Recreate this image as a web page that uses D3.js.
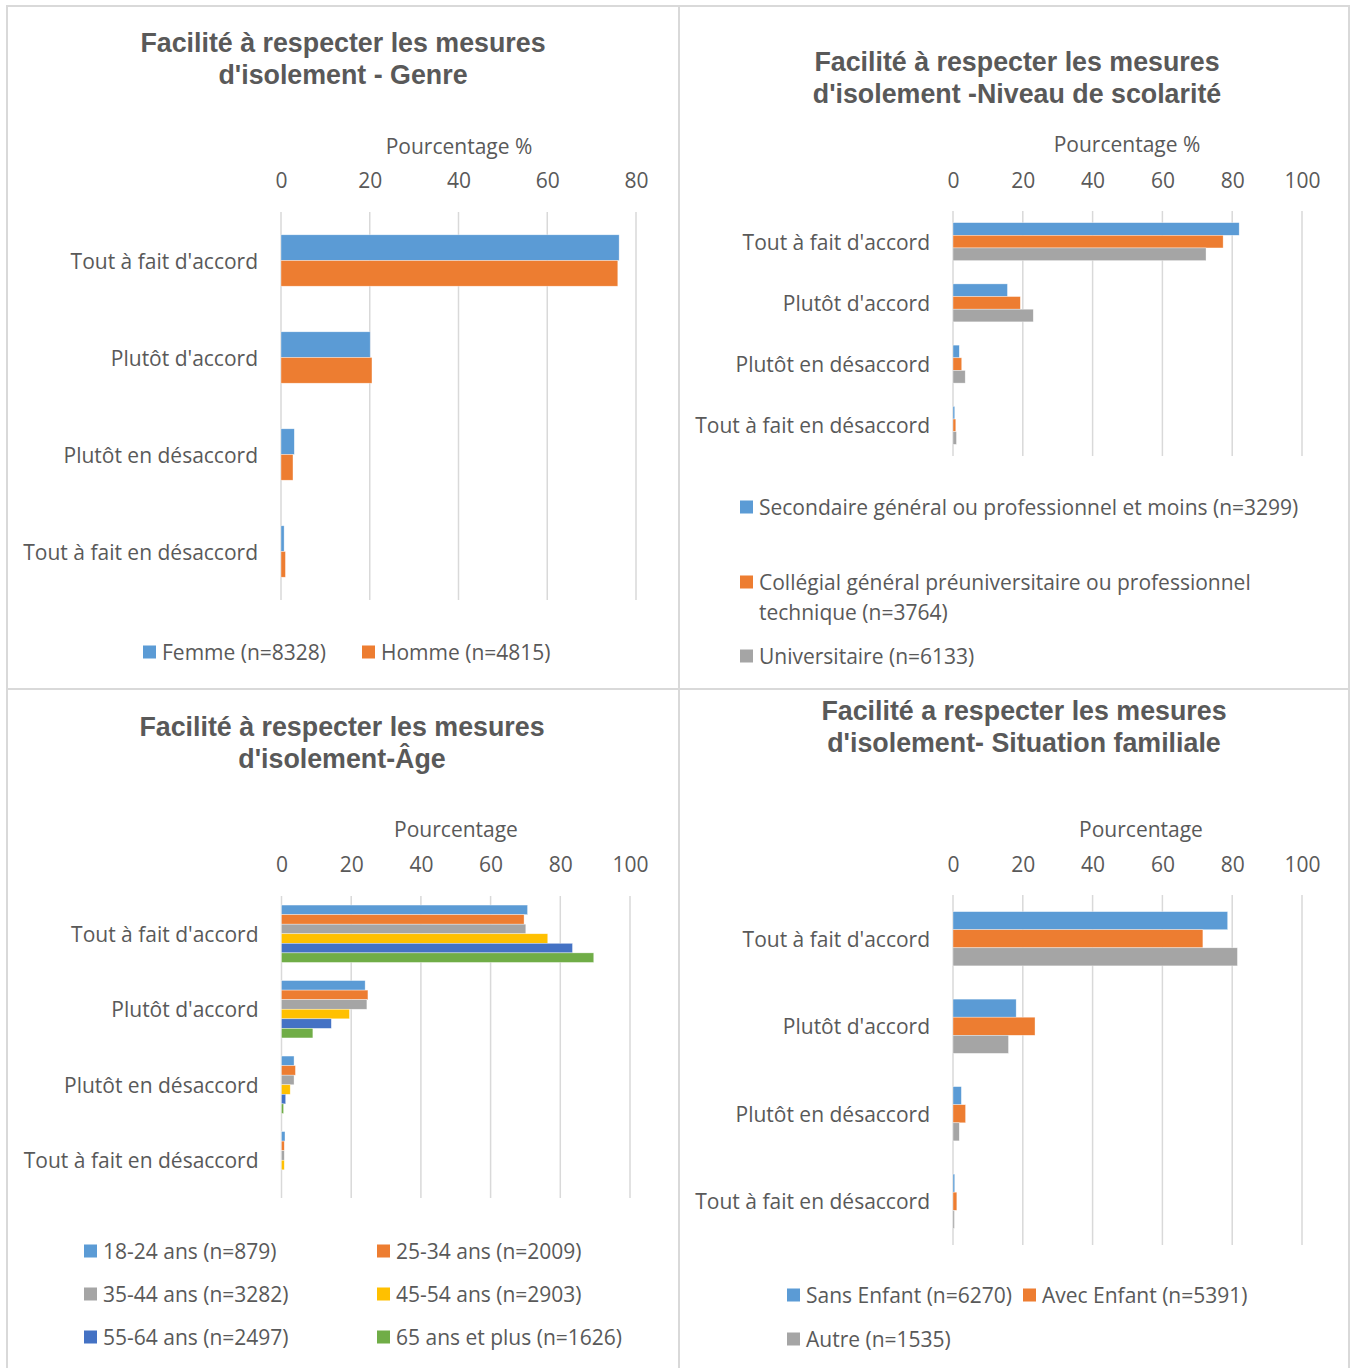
<!DOCTYPE html>
<html lang="fr">
<head>
<meta charset="UTF-8">
<title>Facilité à respecter les mesures d'isolement</title>
<script src="https://cdnjs.cloudflare.com/ajax/libs/d3/7.8.5/d3.min.js"></script>
<style>
  body { margin: 0; background: #fff; }
  svg { display: block; }
  .title { font-family: "Liberation Sans", Arial, sans-serif; font-weight: bold; font-size: 26.8px; fill: #595959; }
  .lbl { font-family: "Open Sans", sans-serif; font-size: 21px; fill: #595959; }
  .grid line { stroke: #d9d9d9; stroke-width: 1.5px; }
</style>
</head>
<body>
<div id="chart"></div>
<script>
// catégories (axe vertical)
const categories = ["Tout à fait d'accord", "Plutôt d'accord", "Plutôt en désaccord", "Tout à fait en désaccord"];

// Genre
const genreSeries = ["Femme (n=8328)", "Homme (n=4815)"];
const genreFemme = [76.2, 20.1, 3.0, 0.7];
const genreHomme = [75.9, 20.5, 2.7, 1.0];

// Niveau de scolarité
const scolSeries = ["Secondaire général ou professionnel et moins (n=3299)",
  "Collégial général préuniversitaire ou professionnel technique (n=3764)",
  "Universitaire (n=6133)"];
const scolSecondaire = [82.0, 15.6, 1.8, 0.5];
const scolCollegial = [77.4, 19.3, 2.5, 0.8];
const scolUniversitaire = [72.5, 23.0, 3.5, 1.0];

// Âge
const ageSeries = ["18-24 ans (n=879)", "25-34 ans (n=2009)", "35-44 ans (n=3282)",
  "45-54 ans (n=2903)", "55-64 ans (n=2497)", "65 ans et plus (n=1626)"];
const age1824 = [70.6, 24.0, 3.6, 1.0];
const age2534 = [69.6, 24.8, 4.0, 0.8];
const age3544 = [70.1, 24.5, 3.6, 0.8];
const age4554 = [76.4, 19.5, 2.5, 0.8];
const age5564 = [83.5, 14.3, 1.2, 0];
const age65 = [89.6, 9.0, 0.6, 0];

// Situation familiale
const famSeries = ["Sans Enfant (n=6270)", "Avec Enfant (n=5391)", "Autre (n=1535)"];
const famSans = [78.7, 18.1, 2.4, 0.5];
const famAvec = [71.6, 23.5, 3.6, 1.1];
const famAutre = [81.5, 15.9, 1.8, 0.4];

const genreTicks = [0, 20, 40, 60, 80];
const centTicks = [0, 20, 40, 60, 80, 100];

const colors = ["#5b9bd5", "#ed7d31", "#a5a5a5", "#ffc000", "#4472c4", "#70ad47"];

const W = 1350, H = 1368;
const svg = d3.select("#chart").append("svg").attr("width", W).attr("height", H);

// cadres
const frame = svg.append("g").attr("stroke", "#d9d9d9").attr("stroke-width", 2).attr("fill", "none");
frame.append("rect").attr("x", 7).attr("y", 6).attr("width", 1342).attr("height", 1370);
frame.append("line").attr("x1", 679).attr("x2", 679).attr("y1", 6).attr("y2", H);
frame.append("line").attr("x1", 7).attr("x2", 1349).attr("y1", 689).attr("y2", 689);

function drawPanel(p) {
  const g = svg.append("g");

  // titre
  p.title.forEach((t, i) => {
    g.append("text").attr("class", "title").attr("x", p.titleX).attr("y", p.titleY + i * 32)
      .attr("text-anchor", "middle").attr("dominant-baseline", "central").text(t);
  });

  const x = d3.scaleLinear().domain(p.domain).range([p.x0, p.x1]);
  const y = d3.scaleBand().domain(categories).range([p.y0, p.y1])
    .paddingInner(p.pad).paddingOuter(p.pad / 2);
  const ys = d3.scaleBand().domain(d3.range(p.values.length)).range([0, y.bandwidth()]);

  // grille
  g.append("g").attr("class", "grid").selectAll("line").data(p.ticks).join("line")
    .attr("x1", d => x(d)).attr("x2", d => x(d)).attr("y1", p.y0).attr("y2", p.y1);

  // graduations en haut
  const ax = g.append("g").attr("transform", `translate(0,${p.tickY})`)
    .call(d3.axisTop(x).tickValues(p.ticks).tickSize(0).tickPadding(0));
  ax.select(".domain").remove();
  ax.selectAll("text").attr("class", "lbl").attr("dy", "0.35em").attr("font-size", null).attr("font-family", null);
  ax.attr("font-size", null).attr("font-family", null);

  g.append("text").attr("class", "lbl").attr("x", p.axisTitleX).attr("y", p.axisTitleY)
    .attr("text-anchor", "middle").attr("dominant-baseline", "central").text(p.axisTitle);

  // catégories
  g.selectAll(".cat").data(categories).join("text").attr("class", "lbl cat")
    .attr("x", p.x0 - 23).attr("y", d => y(d) + y.bandwidth() / 2)
    .attr("text-anchor", "end").attr("dominant-baseline", "central").text(d => d);

  // barres
  p.values.forEach((vals, si) => {
    g.append("g").selectAll("rect").data(vals).join("rect")
      .attr("x", x(0)).attr("y", (d, ci) => y(categories[ci]) + ys(si))
      .attr("width", d => x(d) - x(0)).attr("height", ys.bandwidth())
      .attr("fill", colors[si]).attr("stroke", "#fff").attr("stroke-opacity", 0.6).attr("stroke-width", 0.6);
  });

  // légende
  p.legend.forEach((it, i) => {
    const lg = g.append("g").attr("transform", `translate(${it[0]},${it[1]})`);
    lg.append("rect").attr("x", 0).attr("y", -6.5).attr("width", 13).attr("height", 13).attr("fill", colors[i]);
    const lines = p.series[i].split("\n");
    lines.forEach((ln, k) => {
      lg.append("text").attr("class", "lbl").attr("x", 19).attr("y", k * 30)
        .attr("dominant-baseline", "central").text(ln);
    });
  });
}

drawPanel({
  title: ["Facilité à respecter les mesures", "d'isolement - Genre"], titleX: 343, titleY: 43,
  axisTitle: "Pourcentage %", axisTitleX: 459, axisTitleY: 146, tickY: 181,
  domain: [0, 80], ticks: genreTicks, x0: 281, x1: 636, y0: 212, y1: 600, pad: 0.47,
  values: [genreFemme, genreHomme], series: genreSeries,
  legend: [[143, 652], [362, 652]]
});

drawPanel({
  title: ["Facilité à respecter les mesures", "d'isolement -Niveau de scolarité"], titleX: 1017, titleY: 62,
  axisTitle: "Pourcentage %", axisTitleX: 1127, axisTitleY: 144, tickY: 181,
  domain: [0, 100], ticks: centTicks, x0: 953, x1: 1302, y0: 211, y1: 456, pad: 0.38,
  values: [scolSecondaire, scolCollegial, scolUniversitaire],
  series: [scolSeries[0], "Collégial général préuniversitaire ou professionnel\ntechnique (n=3764)", scolSeries[2]],
  legend: [[740, 507], [740, 582], [740, 656]]
});

drawPanel({
  title: ["Facilité à respecter les mesures", "d'isolement-Âge"], titleX: 342, titleY: 727,
  axisTitle: "Pourcentage", axisTitleX: 456, axisTitleY: 829, tickY: 865,
  domain: [0, 100], ticks: centTicks, x0: 281.5, x1: 630, y0: 896, y1: 1198, pad: 0.24,
  values: [age1824, age2534, age3544, age4554, age5564, age65], series: ageSeries,
  legend: [[84, 1251], [377, 1251], [84, 1294], [377, 1294], [84, 1337], [377, 1337]]
});

drawPanel({
  title: ["Facilité a respecter les mesures", "d'isolement- Situation familiale"], titleX: 1024, titleY: 711,
  axisTitle: "Pourcentage", axisTitleX: 1141, axisTitleY: 829, tickY: 865,
  domain: [0, 100], ticks: centTicks, x0: 953, x1: 1302, y0: 895, y1: 1245, pad: 0.38,
  values: [famSans, famAvec, famAutre], series: famSeries,
  legend: [[787, 1295], [1023, 1295], [787, 1339]]
});
</script>
</body>
</html>
